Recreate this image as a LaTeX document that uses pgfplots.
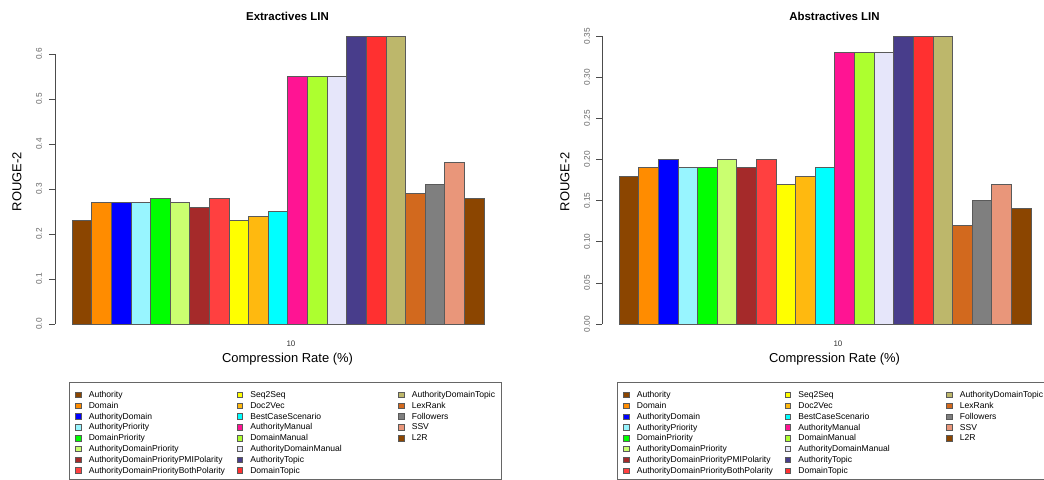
\documentclass[border=0pt]{standalone}
\usepackage{pgfplots}
\pgfplotsset{compat=1.18}
\usepackage{fontspec}
\setmainfont{Liberation Sans}

% bar colours (R colour names)
\definecolor{cAuthority}{HTML}{8B4500}
\definecolor{cDomain}{HTML}{FF8C00}
\definecolor{cAuthDom}{HTML}{0000FF}
\definecolor{cAuthPrio}{HTML}{98F5FF}
\definecolor{cDomPrio}{HTML}{00FF00}
\definecolor{cADPrio}{HTML}{CAFF70}
\definecolor{cADPPMI}{HTML}{A52A2A}
\definecolor{cADPBoth}{HTML}{FF4040}
\definecolor{cSeq}{HTML}{FFFF00}
\definecolor{cDoc}{HTML}{FFB90F}
\definecolor{cBest}{HTML}{00FFFF}
\definecolor{cAuthMan}{HTML}{FF1493}
\definecolor{cDomMan}{HTML}{ADFF2F}
\definecolor{cADMan}{HTML}{E6E6FA}
\definecolor{cAuthTop}{HTML}{483D8B}
\definecolor{cDomTop}{HTML}{FF3030}
\definecolor{cADTop}{HTML}{BDB76B}
\definecolor{cLex}{HTML}{D2691E}
\definecolor{cFoll}{HTML}{7F7F7F}
\definecolor{cSSV}{HTML}{E9967A}
\definecolor{cL2R}{HTML}{8B4500}
\definecolor{edge}{HTML}{5A5A5A}

% fixed-width entries for the first two legend columns
\newcommand{\wentry}[1]{\addlegendentry{\makebox[142bp][l]{#1}}}
% blank cells that complete the third legend column
\newcommand{\padentries}{%
  \addlegendimage{empty legend}\addlegendentry{}%
  \addlegendimage{empty legend}\addlegendentry{}%
  \addlegendimage{empty legend}\addlegendentry{}}

\pgfplotsset{
  mybar/.style={ybar, bar width=1, bar shift=0pt, fill=#1, draw=edge, line width=0.7bp,
    legend image code/.code={\draw[fill=#1, draw=edge, line width=0.5bp] (0bp,-4.85bp) rectangle (5.5bp,0.65bp);}},
  rplot/.style={
    scale only axis, width=465bp, clip=false,
    xmin=-0.3665, xmax=23.334, ymin=0,
    axis y line*=left, axis x line*=bottom,
    x axis line style={draw=none},
    y axis line style={draw=black!70, line width=0.6bp, -},
    xtick={11.66}, xticklabels={10},
    xtick style={draw=none},
    ytick style={draw=black!70, line width=0.6bp},
    tick align=outside, major tick length=6bp,
    xticklabel style={anchor=center, yshift=-13.5bp, font=\fontsize{8}{9}\selectfont, text=black!80},
    title style={anchor=center, font=\bfseries\fontsize{11.5}{13}\selectfont},
    xlabel={Compression Rate (\%)}, ylabel={ROUGE-2},
    label style={font=\fontsize{13}{15}\selectfont},
    legend cell align=left,
    transpose legend, legend columns=8,
    legend style={anchor=north west, draw=black!60, line width=0.6bp,
      inner xsep=6bp, inner ysep=5.1bp,
      font=\fontsize{8.6}{10}\selectfont,
      nodes={inner sep=0bp, outer sep=0bp, text height=10.2bp, text depth=0.6bp},
      /tikz/every odd column/.append style={column sep=7.5bp},
      /tikz/every even column/.append style={column sep=6bp}},
  },
}

\begin{document}
\begin{tikzpicture}
\path[use as bounding box] (0,0) rectangle (1044bp,480bp);
\clip (0,0) rectangle (1044bp,480bp);

% ---------------- Extractives ----------------
\begin{axis}[rplot,
  at={(55bp,156bp)}, anchor=south west,
  height=270bp, ymax=0.6,
  ytick={0,0.1,0.2,0.3,0.4,0.5,0.6},
  yticklabel style={xshift=-10bp, rotate=90, anchor=center, font=\fontsize{8.3}{9}\selectfont, text=black!60,
    /pgf/number format/.cd, fixed, fixed zerofill, precision=1, assume math mode=true},
  title={Extractives LIN},
  title style={at={(axis description cs:0.5,1.117)}},
  ylabel style={at={(axis description cs:-0.0817,0.5278)}, anchor=center},
  xlabel style={at={(axis description cs:0.5,-0.1296)}, anchor=center},
  legend style={at={(axis description cs:0.0301,-0.2148)}},
]
\addplot[mybar=cAuthority] coordinates {(1,0.23)};  \wentry{Authority}
\addplot[mybar=cDomain]    coordinates {(2,0.27)};  \wentry{Domain}
\addplot[mybar=cAuthDom]   coordinates {(3,0.27)};  \wentry{AuthorityDomain}
\addplot[mybar=cAuthPrio]  coordinates {(4,0.27)};  \wentry{AuthorityPriority}
\addplot[mybar=cDomPrio]   coordinates {(5,0.28)};  \wentry{DomainPriority}
\addplot[mybar=cADPrio]    coordinates {(6,0.27)};  \wentry{AuthorityDomainPriority}
\addplot[mybar=cADPPMI]    coordinates {(7,0.26)};  \wentry{AuthorityDomainPriorityPMIPolarity}
\addplot[mybar=cADPBoth]   coordinates {(8,0.28)};  \wentry{AuthorityDomainPriorityBothPolarity}
\addplot[mybar=cSeq]       coordinates {(9,0.23)};  \wentry{Seq2Seq}
\addplot[mybar=cDoc]       coordinates {(10,0.24)}; \wentry{Doc2Vec}
\addplot[mybar=cBest]      coordinates {(11,0.25)}; \wentry{BestCaseScenario}
\addplot[mybar=cAuthMan]   coordinates {(12,0.55)}; \wentry{AuthorityManual}
\addplot[mybar=cDomMan]    coordinates {(13,0.55)}; \wentry{DomainManual}
\addplot[mybar=cADMan]     coordinates {(14,0.55)}; \wentry{AuthorityDomainManual}
\addplot[mybar=cAuthTop]   coordinates {(15,0.64)}; \wentry{AuthorityTopic}
\addplot[mybar=cDomTop]    coordinates {(16,0.64)}; \wentry{DomainTopic}
\addplot[mybar=cADTop]     coordinates {(17,0.64)}; \addlegendentry{AuthorityDomainTopic}
\addplot[mybar=cLex]       coordinates {(18,0.29)}; \addlegendentry{LexRank}
\addplot[mybar=cFoll]      coordinates {(19,0.31)}; \addlegendentry{Followers}
\addplot[mybar=cSSV]       coordinates {(20,0.36)}; \addlegendentry{SSV}
\addplot[mybar=cL2R]       coordinates {(21,0.28)}; \addlegendentry{L2R}
\padentries
\end{axis}

% ---------------- Abstractives ----------------
\begin{axis}[rplot,
  at={(602bp,156bp)}, anchor=south west,
  height=288bp, ymax=0.35,
  ytick={0,0.05,0.1,0.15,0.2,0.25,0.3,0.35},
  yticklabel style={xshift=-9bp, rotate=90, anchor=center, font=\fontsize{8.3}{9}\selectfont, text=black!60,
    /pgf/number format/.cd, fixed, fixed zerofill, precision=2, assume math mode=true},
  title={Abstractives LIN},
  title style={at={(axis description cs:0.5,1.0472)}},
  ylabel style={at={(axis description cs:-0.0796,0.4948)}, anchor=center},
  xlabel style={at={(axis description cs:0.5,-0.1215)}, anchor=center},
  legend style={at={(axis description cs:0.0323,-0.2014)}},
]
\addplot[mybar=cAuthority] coordinates {(1,0.18)};  \wentry{Authority}
\addplot[mybar=cDomain]    coordinates {(2,0.19)};  \wentry{Domain}
\addplot[mybar=cAuthDom]   coordinates {(3,0.20)};  \wentry{AuthorityDomain}
\addplot[mybar=cAuthPrio]  coordinates {(4,0.19)};  \wentry{AuthorityPriority}
\addplot[mybar=cDomPrio]   coordinates {(5,0.19)};  \wentry{DomainPriority}
\addplot[mybar=cADPrio]    coordinates {(6,0.20)};  \wentry{AuthorityDomainPriority}
\addplot[mybar=cADPPMI]    coordinates {(7,0.19)};  \wentry{AuthorityDomainPriorityPMIPolarity}
\addplot[mybar=cADPBoth]   coordinates {(8,0.20)};  \wentry{AuthorityDomainPriorityBothPolarity}
\addplot[mybar=cSeq]       coordinates {(9,0.17)};  \wentry{Seq2Seq}
\addplot[mybar=cDoc]       coordinates {(10,0.18)}; \wentry{Doc2Vec}
\addplot[mybar=cBest]      coordinates {(11,0.19)}; \wentry{BestCaseScenario}
\addplot[mybar=cAuthMan]   coordinates {(12,0.33)}; \wentry{AuthorityManual}
\addplot[mybar=cDomMan]    coordinates {(13,0.33)}; \wentry{DomainManual}
\addplot[mybar=cADMan]     coordinates {(14,0.33)}; \wentry{AuthorityDomainManual}
\addplot[mybar=cAuthTop]   coordinates {(15,0.35)}; \wentry{AuthorityTopic}
\addplot[mybar=cDomTop]    coordinates {(16,0.35)}; \wentry{DomainTopic}
\addplot[mybar=cADTop]     coordinates {(17,0.35)}; \addlegendentry{AuthorityDomainTopic}
\addplot[mybar=cLex]       coordinates {(18,0.12)}; \addlegendentry{LexRank}
\addplot[mybar=cFoll]      coordinates {(19,0.15)}; \addlegendentry{Followers}
\addplot[mybar=cSSV]       coordinates {(20,0.17)}; \addlegendentry{SSV}
\addplot[mybar=cL2R]       coordinates {(21,0.14)}; \addlegendentry{L2R}
\padentries
\end{axis}
\end{tikzpicture}
\end{document}
